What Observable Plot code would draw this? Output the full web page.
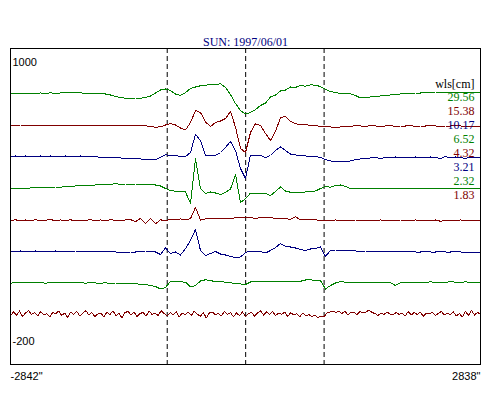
<!DOCTYPE html>
<html><head><meta charset="utf-8">
<script src="https://cdn.jsdelivr.net/npm/d3@7"></script>
<script src="https://cdn.jsdelivr.net/npm/@observablehq/plot@0.6"></script>
<style>html,body{margin:0;padding:0;background:#fff;} #chart svg{display:block}</style>
</head><body><div id="chart"></div>
<script>
// scan extent (arcsec) and limb/centre markers
const X_START = -2842, X_END = 2838;
const limbPositions = [-948, 0, 948];
const titleText = ["SUN: 1997/06/01"];
const legendHeader = ["wls[cm]"];
const wavelengths = ["29.56","15.38","10.17","6.52","4.32","3.21","2.32","1.83"];
const traceColors = ["#008000","#800000","#000080","#008000","#800000","#000080","#008000","#800000"];
const baselines = [850, 725, 600, 475, 345, 220, 95, -30];
const yLabelTop = ["1000"], yLabelBottom = ["-200"];
const xLabels = ['-2842"', '2838"'];

// brightness deviations of each wavelength scan (95 samples, -2842" .. 2838")
const green2956 = [2,0,3,0,2,1,4,2,5,2,4,7,5,4,5,2,3,1,2,0,-4,-10,-14,-17,-18,-16,-17,-14,-8,4,16,20,14,0,-6,6,22,28,33,35,39,38,41,26,-2,-38,-66,-80,-74,-62,-46,-36,-12,-4,12,16,28,26,35,31,37,35,30,18,10,6,2,0,1,-6,-16,-15,-12,-10,-8,-6,-4,-2,0,2,2,4,4,6,6,8,8,8,6,7,6,6,7,6,8];
const red1538 = [0,-1,1,0,-1,-1,0,-2,-1,0,-1,-2,-2,-1,0,-1,-1,0,-1,-1,0,-1,-2,-1,-1,0,-2,-2,-5,-8,-6,1,7,1,-11,-19,11,59,51,13,-5,11,17,27,55,-8,-93,-109,-29,6,-1,-33,-61,-25,31,35,15,7,1,3,-1,-1,-5,-5,-7,-9,-7,-5,-4,-2,-3,-4,-2,-3,-4,-3,-2,-4,-3,-3,-2,-4,-3,-3,-2,-3,-4,-3,-3,-2,-3,-3,-3,-3,-3];
const blue1017 = [0,2,-2,2,0,0,2,-2,2,0,-2,2,0,0,2,-2,0,0,-4,-3,-6,-4,-6,-8,-7,-8,-10,-12,-14,-12,-4,8,2,4,0,0,16,88,64,4,4,4,16,36,60,24,-48,-88,6,6,4,-4,4,24,38,24,10,6,4,2,0,0,-4,-12,-18,-20,-22,-20,-18,-12,-10,-8,-6,-4,-8,-4,-6,-2,-6,-4,-6,-2,-4,-6,-2,-4,-8,0,-6,-2,-4,-8,-2,-6,-4];
const green652 = [-2,-3,-4,-2,-1,0,1,0,2,3,2,5,4,7,8,9,8,11,12,12,14,16,14,15,14,15,13,14,13,11,7,-3,-11,-14,-15,-17,-63,117,-3,-23,-17,-21,-27,-19,-5,53,-59,-44,-21,-21,-22,-23,-31,-15,3,-13,-18,-19,-19,-17,-15,-13,-3,5,2,9,11,5,-3,-4,-3,-5,-3,-4,-2,-4,-3,-5,-3,-2,-4,-2,-3,-5,-3,-4,-2,-4,-3,-4,-2,-4,-3,-4,-4];
const red432 = [-1,2,-3,1,-2,2,-1,0,3,-2,1,-1,2,-3,1,0,2,-2,1,-1,2,0,-2,1,3,-6,8,-12,6,-14,2,-3,4,2,5,3,6,52,0,6,5,7,6,8,7,10,9,11,10,8,10,9,10,8,5,6,4,14,2,3,1,2,-1,0,-2,1,-1,0,-2,1,0,-2,0,-1,1,-2,0,-1,1,0,-2,1,-1,0,-2,1,-4,-1,0,-2,1,-1,0,-1,0];
const blue321 = [0,-2,2,0,-2,2,0,0,-2,2,0,-2,0,2,0,-2,0,0,-2,0,0,-2,-2,-4,-2,-2,0,2,2,-2,-12,14,-8,-2,-14,12,44,88,4,-16,-8,0,-10,-14,-20,-24,-22,-4,2,2,0,-6,4,16,32,20,18,14,8,4,10,12,18,-20,4,6,4,2,4,2,0,2,0,-2,0,-2,0,-2,0,-2,0,-2,-2,0,-2,-2,0,-2,-2,0,-2,-2,-2,-2,-2];
const green232 = [-2,1,-1,2,0,2,1,-2,1,2,0,2,1,-1,1,-2,1,-1,-2,0,-3,-1,-3,-4,-2,-4,-6,-7,-11,-15,-25,-19,5,6,4,2,-17,-11,7,12,9,4,5,2,0,-3,-5,-7,3,5,4,5,4,5,5,4,6,5,6,11,12,9,8,-25,-11,-1,5,2,1,2,0,1,2,0,1,-1,0,-11,1,2,0,2,1,0,4,1,2,0,6,2,1,4,1,0,1];
// noisiest channel, sampled more densely (157 samples)
const red183 = [-6,8,-4,12,-10,4,14,-2,6,-8, 10,-4,2,-12,6,0,12,-6,4,-14, 8,-2,10,-8,2,14,-4,6,-10,0, 4,-12,8,-2,12,-6,2,-16,6,10, -4,8,-10,2,6,-8,12,-2,4,-6, 14,2,-8,6,-4,10,-12,4,-2,8, -6,12,0,-10,6,-16,4,8,-4,2, -8,10,-2,6,-12,4,-6,8,-10,2, 6,-8,4,12,-4,8,-2,10,-6,4, -2,8,-10,6,-4,2,-12,4,-8,-2, -10,-4,-14,-8,-12,4,8,12,6,10, 2,12,-4,8,6,-2,10,4,8,16, 6,2,-6,4,-2,8,0,-4,6,-2, 4,-8,10,-4,6,-2,8,-10,4,0, 6,-6,2,10,-4,4,-2,8,-8,2, -12,10,-6,14,-4,6,0];

const series = [green2956, red1538, blue1017, green652, red432, blue321, green232, red183];

const traceMarks = series.map((vals, k) => {
  const n = vals.length;
  const rows = vals.map((v, i) => ({x: X_START + i * (X_END - X_START) / (n - 1), y: baselines[k] + v}));
  return Plot.line(rows, {x: "x", y: "y", stroke: traceColors[k], strokeWidth: 1, shapeRendering: "crispEdges"});
});

const serif = "'Liberation Serif', 'Times New Roman', serif";
const sans = "'Liberation Sans', Arial, sans-serif";

const legendMarks = wavelengths.map((w, k) =>
  Plot.text([w], {frameAnchor: "top-right", text: d => d, dx: -6, dy: 52 + 14 * k, lineAnchor: "bottom",
    textAnchor: "end", fill: traceColors[k], fontFamily: serif, fontSize: 12}));

const chart = Plot.plot({
  width: 500,
  height: 400,
  marginTop: 48,
  marginBottom: 36,
  marginLeft: 10,
  marginRight: 20,
  x: {domain: [X_START, X_END], axis: null},
  y: {domain: [-232, 1032], axis: null},
  marks: [
    Plot.ruleX(limbPositions, {stroke: "#000", strokeDasharray: "5,3"}),
    ...traceMarks,
    Plot.frame({stroke: "#000"}),
    Plot.text(titleText, {frameAnchor: "top", text: d => d, dy: -3, lineAnchor: "bottom", fill: "#000080", fontFamily: serif, fontSize: 12}),
    Plot.text(legendHeader, {frameAnchor: "top-right", text: d => d, dx: -6, dy: 39, lineAnchor: "bottom", textAnchor: "end", fill: "#000", fontFamily: serif, fontSize: 12}),
    ...legendMarks,
    Plot.text(yLabelTop, {frameAnchor: "top-left", text: d => d, dx: 2, dy: 17, lineAnchor: "bottom", textAnchor: "start", fill: "#000", fontFamily: sans, fontSize: 11}),
    Plot.text(yLabelBottom, {frameAnchor: "bottom-left", text: d => d, dx: 2, dy: -20, lineAnchor: "bottom", textAnchor: "start", fill: "#000", fontFamily: sans, fontSize: 11}),
    Plot.text([X_START], {x: d => d, frameAnchor: "bottom", text: () => xLabels[0], dy: 15, lineAnchor: "bottom", textAnchor: "start", fill: "#000", fontFamily: sans, fontSize: 11}),
    Plot.text([X_END], {x: d => d, frameAnchor: "bottom", text: () => xLabels[1], dy: 15, lineAnchor: "bottom", textAnchor: "end", fill: "#000", fontFamily: sans, fontSize: 11})
  ]
});
document.getElementById("chart").appendChild(chart);
</script>
</body></html>
